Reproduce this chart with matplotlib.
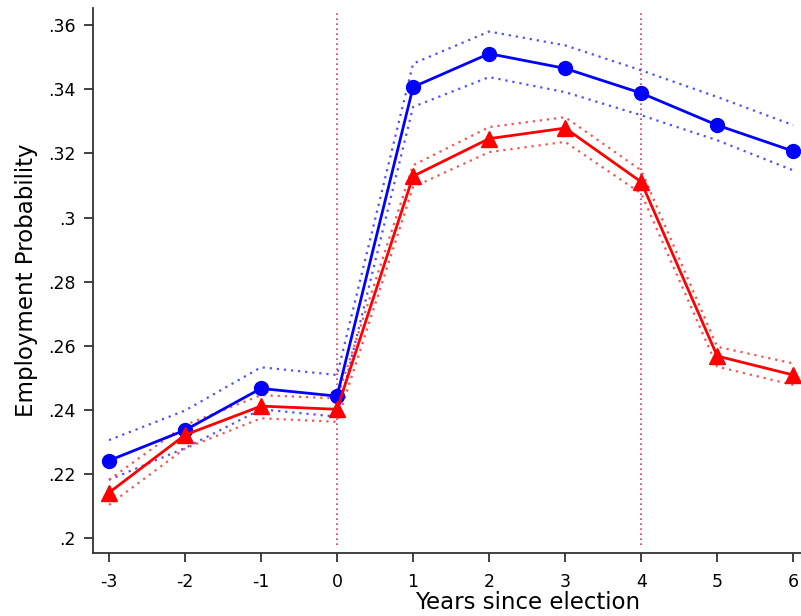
import matplotlib.pyplot as plt

years = [-3, -2, -1, 0, 1, 2, 3, 4, 5, 6]

# blue series (circles) with confidence bands
blue = [0.2242, 0.2337, 0.2467, 0.2443, 0.3407, 0.3511, 0.3465, 0.3388, 0.3288, 0.3207]
blue_hi = [0.2306, 0.2398, 0.2533, 0.2509, 0.3480, 0.3580, 0.3537, 0.3459, 0.3376, 0.3288]
blue_lo = [0.2182, 0.2281, 0.2402, 0.2379, 0.3345, 0.3438, 0.3391, 0.3319, 0.3241, 0.3147]

# red series (triangles) with confidence bands
red = [0.2142, 0.2322, 0.2412, 0.2402, 0.3129, 0.3246, 0.3279, 0.3111, 0.2568, 0.2509]
red_hi = [0.2182, 0.2353, 0.2446, 0.2436, 0.3163, 0.3282, 0.3313, 0.3147, 0.2597, 0.2545]
red_lo = [0.2104, 0.2280, 0.2374, 0.2363, 0.3095, 0.3204, 0.3236, 0.3075, 0.2535, 0.2478]

event_years = [0, 4]
yticks = [0.2, 0.22, 0.24, 0.26, 0.28, 0.3, 0.32, 0.34, 0.36]
ytick_labels = ['.2', '.22', '.24', '.26', '.28', '.3', '.32', '.34', '.36']

plt.rcParams['font.family'] = ['DejaVu Sans']
plt.rcParams['axes.unicode_minus'] = False

fig = plt.figure(figsize=(8.01, 6.16), dpi=100)
# plot region runs past the right edge, like the cropped original
ax = fig.add_axes([0.1161, 0.1018, 1.084, 0.885])

for yr in event_years:
    ax.axvline(yr, ymin=0.015, ymax=0.995, color='#d6336c', lw=1.2, ls=(0, (1, 2)), zorder=1)

ax.plot(years, blue_hi, color='#5050ff', lw=1.6, ls=(0, (1, 2.2)), zorder=2)
ax.plot(years, blue_lo, color='#5050ff', lw=1.6, ls=(0, (1, 2.2)), zorder=2)
ax.plot(years, red_hi, color='#ff5050', lw=1.6, ls=(0, (1, 2.2)), zorder=2)
ax.plot(years, red_lo, color='#ff5050', lw=1.6, ls=(0, (1, 2.2)), zorder=2)

ax.plot(years, blue, color='#0000ff', lw=2, marker='o', ms=10, zorder=3)
ax.plot(years, red, color='#ff0000', lw=2, marker='^', ms=11, zorder=4)

ax.set_xlim(-3.21, 8.21)
ax.set_ylim(0.1953, 0.3653)
ax.set_xticks(years)
ax.set_yticks(yticks)
ax.set_yticklabels(ytick_labels)

ax.spines['top'].set_visible(False)
ax.spines['right'].set_visible(False)
for s in ['left', 'bottom']:
    ax.spines[s].set_color('#333333')
    ax.spines[s].set_linewidth(1.3)
ax.tick_params(direction='out', length=6.5, width=1.3, color='#333333', labelsize=12.5, pad=6)
ax.tick_params(axis='x', pad=8)

ax.set_xlabel('Years since election', fontsize=16.5, labelpad=0)
ax.set_ylabel('Employment Probability', fontsize=16.5, labelpad=7)

fig.savefig('out.png', dpi=100)
